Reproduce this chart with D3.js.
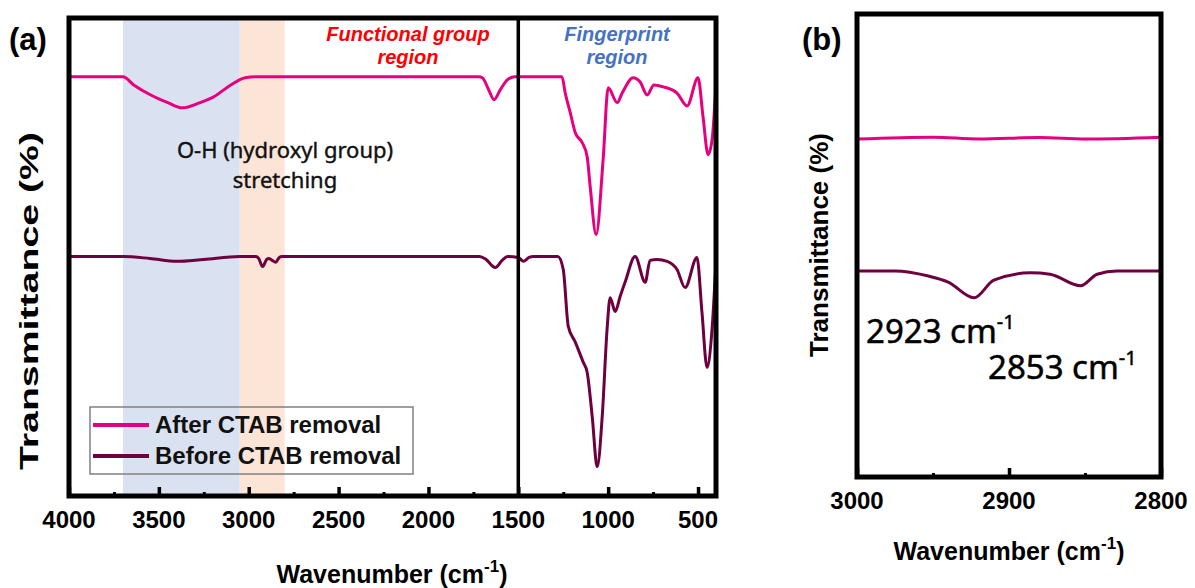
<!DOCTYPE html>
<html>
<head>
<meta charset="utf-8">
<script src="https://cdn.jsdelivr.net/npm/d3@7"></script>
<style>
  body { margin: 0; background: #fff; }
  svg { display: block; }
</style>
</head>
<body>
<svg id="chart" width="1195" height="588"></svg>
<script>
"use strict";

// panel (a): full FTIR spectra (wavenumber in cm-1, transmittance offset in %)
var afterWn = [4000, 3700, 3640, 3545, 3450, 3370, 3270, 3195, 3100, 3020, 2960, 1720, 1700, 1665, 1635, 1600, 1560, 1520,
  1257, 1239, 1211, 1183, 1144, 1117, 1100, 1067, 1028, 1000, 950, 922, 861, 822, 783, 745, 694, 617, 561, 500, 472, 444, 422, 400];
var afterT = [87.7, 87.7, 86.0, 83.9, 82.3, 81.2, 82.3, 83.5, 86.0, 87.5, 87.7, 87.7, 87.5, 85.0, 82.9, 85.0, 87.1, 87.7,
  87.7, 84.3, 80.2, 76.0, 73.9, 71.0, 64.7, 54.7, 70.4, 85.4, 82.3, 84.3, 87.5, 86.6, 83.9, 86.0, 85.6, 84.3, 81.6, 87.5, 79.3, 71.4, 74.5, 86.2];

var beforeWn = [4000, 3700, 3550, 3400, 3250, 3050, 2960, 2945, 2923, 2900, 2889, 2870, 2850, 2830, 2815, 1715, 1680, 1628, 1590, 1560,
  1500, 1472, 1440, 1417, 1280, 1250, 1222, 1183, 1139, 1117, 1089, 1061, 1033, 1006, 989, 961, 933, 906, 850, 794, 767, 728, 672, 617,
  572, 506, 478, 450, 422, 400];
var beforeT = [50.1, 50.1, 49.7, 49.1, 49.5, 50.1, 50.1, 49.7, 48.0, 49.5, 49.7, 49.3, 48.9, 49.9, 50.1, 50.1, 49.5, 47.8, 49.3, 50.1,
  49.9, 49.1, 49.9, 50.1, 50.1, 47.4, 35.5, 32.2, 28.0, 25.9, 16.7, 6.1, 16.7, 34.9, 41.5, 38.6, 41.8, 44.7, 50.1, 44.7, 49.3, 49.5, 49.1, 47.4,
  43.6, 49.9, 38.4, 26.9, 34.9, 49.1];

// panel (b): C-H stretching zoom
var zoomWn = [3000, 2975, 2953, 2940, 2923, 2910, 2886, 2873, 2853, 2842, 2829, 2800];
var zoomBeforeT = [44.5, 44.5, 43.4, 42.1, 38.7, 42.5, 44.1, 43.8, 41.3, 43.8, 44.5, 44.5];
var zoomAfterWn = [3000, 2950, 2920, 2880, 2850, 2800];
var zoomAfterT = [73.0, 73.4, 73.0, 73.3, 73.0, 73.4];

var ticksA = [4000, 3500, 3000, 2500, 2000, 1500, 1000, 500];
var minorA = [3750, 3250, 2750, 2250, 1750, 1250, 750];
var ticksB = [3000, 2900, 2800];
var minorB = [2950, 2850];

var bands = [
  { from: 3700, to: 3050, color: "#dae1f0" },
  { from: 3050, to: 2800, color: "#fce4d6" }
];

var seriesNames = ["After CTAB removal", "Before CTAB removal"];
var colors = ["#e6007e", "#6e0040"];

var svg = d3.select("#chart");
var boldFont = "'Liberation Sans', Arial, sans-serif";
var plainFont = "'Noto Sans', 'Open Sans', sans-serif";

function toPoints(wn, t) {
  return wn.map(function (w, i) { return [w, t[i]]; });
}

function drawPanel(opt) {
  var x = d3.scaleLinear().domain(opt.xDomain).range([opt.left, opt.right]);
  var y = d3.scaleLinear().domain([0, 100]).range([opt.bottom, opt.top]);
  var g = svg.append("g");

  (opt.bands || []).forEach(function (b) {
    g.append("rect")
      .attr("x", x(b.from)).attr("y", opt.top)
      .attr("width", x(b.to) - x(b.from)).attr("height", opt.bottom - opt.top)
      .attr("fill", b.color);
  });

  var line = d3.line()
    .x(function (d) { return x(d[0]); })
    .y(function (d) { return y(d[1]); })
    .curve(d3.curveMonotoneX);

  opt.series.forEach(function (s) {
    g.append("path")
      .datum(s.points)
      .attr("d", line)
      .attr("fill", "none")
      .attr("stroke", s.color)
      .attr("stroke-width", 3)
      .attr("stroke-linejoin", "round");
  });

  if (opt.divider) {
    g.append("line")
      .attr("x1", x(opt.divider)).attr("x2", x(opt.divider))
      .attr("y1", opt.top).attr("y2", opt.bottom)
      .attr("stroke", "#000").attr("stroke-width", 3.5);
  }

  // inward ticks
  var axis = d3.axisTop(x).tickValues(opt.ticks).tickSize(9).tickFormat("");
  var ag = g.append("g").attr("transform", "translate(0," + opt.bottom + ")").call(axis);
  ag.select(".domain").remove();
  ag.selectAll("line").attr("stroke", "#000").attr("stroke-width", 3.5);
  var minor = d3.axisTop(x).tickValues(opt.minor).tickSize(4).tickFormat("");
  var mg = g.append("g").attr("transform", "translate(0," + opt.bottom + ")").call(minor);
  mg.select(".domain").remove();
  mg.selectAll("line").attr("stroke", "#000").attr("stroke-width", 3);

  // tick labels
  g.selectAll(".tl").data(opt.ticks).enter().append("text")
    .attr("x", function (d) { return x(d); })
    .attr("y", opt.bottom + 32)
    .attr("text-anchor", "middle")
    .attr("font-family", boldFont).attr("font-weight", "bold").attr("font-size", 24)
    .text(function (d) { return d; });

  // frame
  g.append("rect")
    .attr("x", opt.left).attr("y", opt.top)
    .attr("width", opt.right - opt.left).attr("height", opt.bottom - opt.top)
    .attr("fill", "none").attr("stroke", "#000").attr("stroke-width", 5);

  // x title
  var xt = g.append("text")
    .attr("x", opt.xTitleX).attr("y", opt.xTitleY)
    .attr("text-anchor", "middle")
    .attr("font-family", boldFont).attr("font-weight", "bold").attr("font-size", 25);
  xt.append("tspan").text("Wavenumber (cm");
  xt.append("tspan").attr("font-size", 17).attr("dy", -11).text("-1");
  xt.append("tspan").attr("dy", 11).text(")");

  // y title
  var yt = g.append("text")
    .attr("transform", "translate(" + opt.yTitleX + "," + opt.yTitleY + ") rotate(-90)")
    .attr("text-anchor", "middle")
    .attr("font-family", boldFont).attr("font-weight", "bold").attr("font-size", 26)
    .text("Transmittance (%)");
  if (opt.yTitleLen) yt.attr("textLength", opt.yTitleLen).attr("lengthAdjust", "spacingAndGlyphs");

  // panel letter
  g.append("text")
    .attr("x", opt.letterX).attr("y", 50)
    .attr("font-family", boldFont).attr("font-weight", "bold").attr("font-size", 31)
    .text(opt.letter);

  return { x: x, y: y, g: g };
}

var pa = drawPanel({
  left: 69, right: 716, top: 18, bottom: 496,
  xDomain: [4000, 400],
  bands: bands,
  divider: 1500,
  ticks: ticksA, minor: minorA,
  series: [
    { points: toPoints(afterWn, afterT), color: colors[0] },
    { points: toPoints(beforeWn, beforeT), color: colors[1] }
  ],
  xTitleX: 392, xTitleY: 583,
  yTitleX: 38, yTitleY: 301, yTitleLen: 338,
  letter: "(a)", letterX: 9
});

var pb = drawPanel({
  left: 857, right: 1161, top: 14, bottom: 477,
  xDomain: [3000, 2800],
  ticks: ticksB, minor: minorB,
  series: [
    { points: toPoints(zoomAfterWn, zoomAfterT), color: colors[0] },
    { points: toPoints(zoomWn, zoomBeforeT), color: colors[1] }
  ],
  xTitleX: 1009, xTitleY: 560,
  yTitleX: 828, yTitleY: 245,
  letter: "(b)", letterX: 802
});

// region labels
function twoLines(g, cx, lines, y0, dy, attrs) {
  lines.forEach(function (t, i) {
    var el = g.append("text").attr("x", cx).attr("y", y0 + i * dy).attr("text-anchor", "middle").text(t);
    Object.keys(attrs).forEach(function (k) { el.attr(k, attrs[k]); });
  });
}
var italicBold = { "font-family": boldFont, "font-weight": "bold", "font-style": "italic", "font-size": 20 };
twoLines(pa.g, 408, ["Functional group", "region"], 41, 23, Object.assign({ fill: "#ff0000" }, italicBold));
twoLines(pa.g, 617, ["Fingerprint", "region"], 41, 23, Object.assign({ fill: "#4472c4" }, italicBold));
twoLines(pa.g, 285, ["O-H (hydroxyl group)", "stretching"], 158, 30,
  { "font-family": plainFont, "font-size": 22, fill: "#111", stroke: "#111", "stroke-width": 0.4 });

// legend
var leg = pa.g.append("g");
leg.append("rect")
  .attr("x", 90).attr("y", 407).attr("width", 323).attr("height", 67)
  .attr("fill", "none").attr("stroke", "#808080").attr("stroke-width", 1.5);
seriesNames.forEach(function (name, i) {
  var yy = 425 + i * 31;
  leg.append("line")
    .attr("x1", 93).attr("x2", 149).attr("y1", yy).attr("y2", yy)
    .attr("stroke", colors[i]).attr("stroke-width", 4);
  leg.append("text")
    .attr("x", 155).attr("y", yy + 8)
    .attr("font-family", boldFont).attr("font-weight", "bold").attr("font-size", 24)
    .attr("fill", "#111")
    .text(name);
});

// peak annotations in (b)
var peaks = [{ label: "2923", x: 866, y: 343 }, { label: "2853", x: 988, y: 379 }];
peaks.forEach(function (p) {
  var t = pb.g.append("text")
    .attr("x", p.x).attr("y", p.y)
    .attr("font-family", plainFont).attr("font-size", 33).attr("fill", "#000")
    .attr("stroke", "#000").attr("stroke-width", 0.5);
  t.append("tspan").text(p.label + " cm");
  t.append("tspan").attr("font-size", 20).attr("dy", -14).text("-1");
});
</script>
</body>
</html>
